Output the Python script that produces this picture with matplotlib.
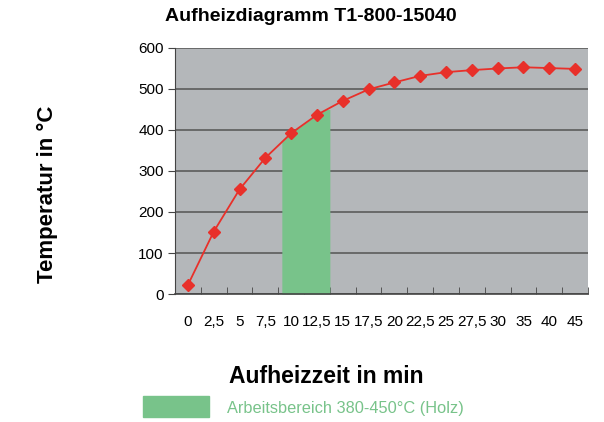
import numpy as np
import matplotlib.pyplot as plt

plt.rcParams['font.family'] = ['Liberation Sans', 'DejaVu Sans']

# Daten
zeit_labels = ["0", "2,5", "5", "7,5", "10", "12,5", "15", "17,5", "20",
               "22,5", "25", "27,5", "30", "35", "40", "45"]
temperatur = [22, 152, 255, 332, 392, 437, 471, 499, 516,
              532, 541, 546, 550, 553, 551, 549]
yticks = [0, 100, 200, 300, 400, 500, 600]

# Arbeitsbereich (in Kategorie-Position) und Obergrenze in °C
bereich_von = 3.64
bereich_bis = 5.5
bereich_max = 450

gruen = "#78c38a"
rot = "#e8302a"

fig = plt.figure(figsize=(6.04, 4.22), dpi=100)
ax = fig.add_axes([0.2897, 0.3033, 0.6838, 0.583])
ax.set_facecolor("#b4b7ba")

idx = np.arange(len(temperatur))

# Gruener Bereich unter der Kurve
xs = np.linspace(bereich_von, bereich_bis, 200)
ys = np.minimum(np.interp(xs, idx, temperatur), bereich_max)
ax.fill_between(xs, 0, ys, color=gruen, lw=0, zorder=2)

ax.plot(idx, temperatur, color=rot, lw=1.3, marker="D", markersize=6,
        markeredgecolor=rot, zorder=4)

ax.set_xlim(-0.5, len(temperatur) - 0.5)
ax.set_ylim(0, 600)
ax.set_yticks(yticks)
ax.set_yticklabels([str(v) for v in yticks], fontsize=11)
ax.yaxis.grid(True, color="#5c5c5c", lw=1.2, zorder=1)
ax.set_axisbelow(True)

ax.set_xticks(idx)
ax.set_xticklabels(zeit_labels, fontsize=11)
ax.tick_params(axis="x", length=0, pad=15)
ax.set_xticks(np.arange(len(temperatur) + 1) - 0.5, minor=True)
ax.tick_params(axis="x", which="minor", length=5, direction="in", color="#444444")
ax.tick_params(axis="y", length=5, direction="out", color="#444444", pad=3)

for s in ["top", "right"]:
    ax.spines[s].set_visible(False)
ax.spines["left"].set_color("#444444")
ax.spines["bottom"].set_color("#444444")
ax.spines["bottom"].set_linewidth(1.2)

fig.text(0.515, 0.962, "Aufheizdiagramm T1-800-15040", ha="center", va="center",
         fontsize=14, fontweight="bold")
fig.text(0.078, 0.54, "Temperatur in °C", ha="center", va="center",
         rotation=90, fontsize=16, fontweight="bold")
fig.text(0.54, 0.109, "Aufheizzeit in min", ha="center", va="center",
         fontsize=16.5, fontweight="bold")

# Legende
fig.patches.append(plt.Rectangle((143 / 604, 1 - 417 / 422), 66 / 604, 21 / 422,
                                 transform=fig.transFigure, color=gruen))
fig.text(227 / 604, 1 - 409 / 422, "Arbeitsbereich 380-450°C (Holz)",
         ha="left", va="center", fontsize=11.8, color=gruen)

fig.savefig("out.png", dpi=100)
